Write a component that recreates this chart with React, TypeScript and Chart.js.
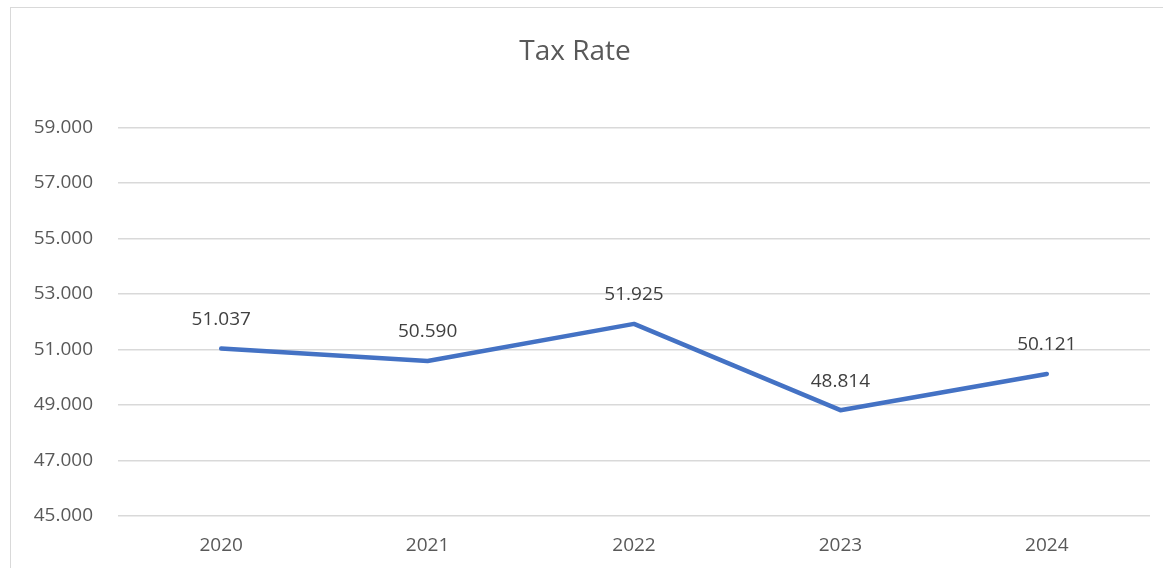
import React, { useEffect, useRef } from "react";
import { Chart, registerables } from "chart.js";

Chart.register(...registerables);

const categories = ["2020", "2021", "2022", "2023", "2024"];
const taxRate = [51.037, 50.59, 51.925, 48.814, 50.121];
const yMin = 45;
const yMax = 59;
const yStep = 2;

const FONT = "'Open Sans', 'Noto Sans', sans-serif";

const dataLabelPlugin = {
  id: "dataLabels",
  afterDatasetsDraw(chart: any) {
    const ctx = chart.ctx;
    const meta = chart.getDatasetMeta(0);
    ctx.save();
    ctx.font = `19px ${FONT}`;
    ctx.fillStyle = "#404040";
    ctx.textAlign = "center";
    ctx.textBaseline = "middle";
    meta.data.forEach((pt: any, i: number) => {
      const v = chart.data.datasets[0].data[i] as number;
      ctx.fillText(v.toFixed(3), pt.x, pt.y - 29);
    });
    ctx.restore();
  },
};

export default function App() {
  const ref = useRef<HTMLCanvasElement>(null);
  useEffect(() => {
    if (!ref.current) return;
    const chart = new Chart(ref.current, {
      type: "line",
      data: {
        labels: categories,
        datasets: [
          {
            label: "Tax Rate",
            data: taxRate,
            borderColor: "#4472C4",
            backgroundColor: "#4472C4",
            borderWidth: 4.5,
            pointRadius: 0,
            pointHoverRadius: 0,
            borderJoinStyle: "round",
            borderCapStyle: "round",
            tension: 0,
          },
        ],
      },
      options: {
        animation: false,
        responsive: false,
        maintainAspectRatio: false,
        layout: { padding: { left: 0, right: 13, top: 0, bottom: 0 } },
        plugins: {
          legend: { display: false },
          tooltip: { enabled: false },
          title: {
            display: true,
            text: "Tax Rate",
            color: "#595959",
            font: { family: FONT, size: 28, weight: "normal" },
            padding: { top: 35, bottom: 59 },
          },
        },
        scales: {
          x: {
            offset: true,
            grid: { display: false, drawTicks: false },
            border: { display: false },
            afterFit(scale: any) {
              scale.height = 52;
            },
            ticks: {
              color: "#595959",
              font: { family: FONT, size: 19 },
              padding: 18,
            },
          },
          y: {
            min: yMin,
            max: yMax,
            border: { display: false },
            grid: { color: "#d9d9d9", lineWidth: 1.5, drawTicks: false },
            afterFit(scale: any) {
              scale.width = 118;
            },
            ticks: {
              stepSize: yStep,
              color: "#595959",
              font: { family: FONT, size: 19 },
              padding: 25,
              callback: (v: any) => Number(v).toFixed(3),
            },
          },
        },
      },
      plugins: [dataLabelPlugin],
    });
    return () => chart.destroy();
  }, []);

  return (
    <div style={{ position: "fixed", left: 0, top: 0, width: 1163, height: 568, overflow: "hidden", background: "#fff" }}>
      <div
        style={{
          position: "absolute",
          left: 10,
          top: 7,
          width: 1200,
          height: 600,
          border: "1px solid #d9d9d9",
        }}
      />
      <canvas ref={ref} width={1163} height={568} style={{ position: "absolute", left: 0, top: 0 }} />
    </div>
  );
}
